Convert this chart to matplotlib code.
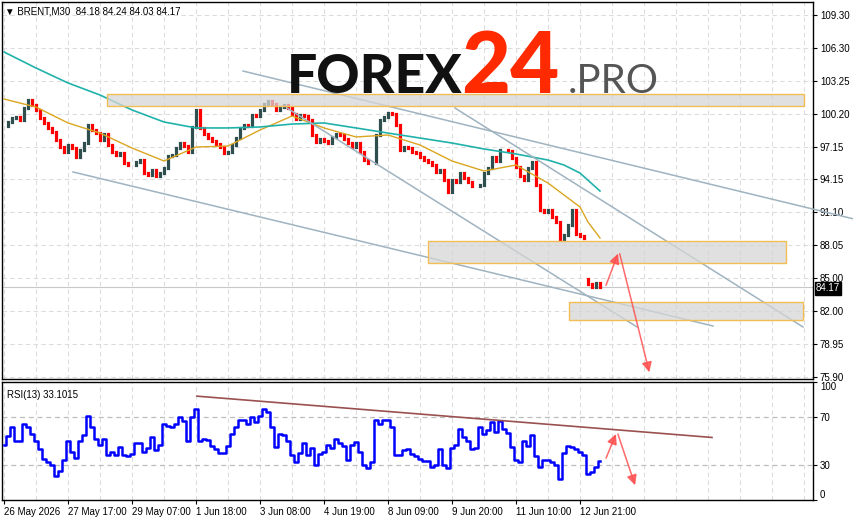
import numpy as np
import matplotlib
matplotlib.use('Agg')
import matplotlib.pyplot as plt
from matplotlib.patches import Rectangle

plt.rcParams['font.family'] = ['Liberation Sans', 'DejaVu Sans']

# BRENT M30 closes, one value per bar
closes = [99.06, 99.43, 99.80, 99.89, 99.61, 100.72, 101.46, 101.00, 100.54, 99.80,
          99.34, 98.88, 98.51, 97.77, 97.12, 96.66, 97.31, 97.03, 96.20, 96.85,
          97.49, 99.15, 98.69, 98.41, 97.77, 98.32, 97.31, 96.66, 96.38, 96.57,
          95.65, 95.46, 95.46, 95.74, 95.92, 94.72, 94.54, 95.00, 94.45, 94.72,
          95.19, 96.29, 96.38, 97.03, 97.49, 97.21, 96.66, 98.97, 100.54, 98.88,
          98.32, 97.95, 97.68, 97.40, 97.12, 96.57, 96.66, 97.31, 97.95, 98.88,
          99.15, 99.06, 100.08, 99.98, 100.54, 101.09, 101.37, 101.09, 100.54, 100.81,
          101.00, 100.72, 100.17, 99.71, 100.08, 99.98, 99.61, 98.23, 97.58, 97.86,
          97.68, 97.49, 98.05, 98.32, 98.23, 97.86, 97.49, 97.12, 97.49, 96.66,
          95.92, 95.65, 95.65, 98.23, 99.61, 99.89, 100.26, 100.17, 99.15, 96.85,
          97.12, 97.03, 96.66, 96.57, 96.20, 95.92, 95.74, 95.46, 94.82, 95.00,
          94.08, 92.97, 94.08, 93.89, 94.72, 94.26, 93.89, 93.53, 93.53, 93.62,
          94.72, 95.19, 96.20, 95.83, 96.85, 96.85, 96.75, 96.11, 95.28, 94.45,
          94.08, 95.19, 95.74, 93.62, 91.31, 91.13, 91.31, 90.67, 90.20, 88.54,
          89.00, 89.93, 91.31, 89.10, 88.91, 88.73, 84.49, 84.21, 84.58, 84.17]
gap_bar = 146
gap_open = 84.95

rsi = [47, 54, 62, 50, 50, 64, 62, 56, 50, 43,
       35, 32, 30, 20, 25, 34, 50, 41, 36, 50,
       55, 71, 62, 52, 47, 52, 38, 41, 38, 45,
       38, 37, 39, 48, 48, 41, 44, 53, 42, 47,
       64, 63, 62, 64, 70, 67, 50, 70, 77, 50,
       52, 51, 46, 43, 40, 40, 46, 56, 62, 68,
       68, 64, 70, 66, 71, 77, 75, 62, 45, 56,
       55, 50, 38, 32, 40, 48, 38, 44, 30, 39,
       41, 47, 44, 52, 48, 46, 34, 47, 49, 41,
       30, 27, 32, 68, 64, 68, 68, 62, 38, 38,
       42, 43, 39, 37, 35, 33, 33, 28, 30, 43,
       30, 27, 44, 47, 60, 53, 50, 43, 44, 62,
       56, 59, 66, 58, 67, 60, 57, 45, 34, 32,
       50, 46, 55, 37, 28, 34, 34, 32, 30, 18,
       40, 46, 45, 43, 41, 38, 22, 24, 28, 33]

# moving averages (bar index, price)
ma_fast_bar = [0, 8, 16, 24, 32, 40, 48, 56, 64, 72, 80, 88, 96, 104, 112, 120, 128, 136, 144, 146, 149]
ma_fast = [101.55, 100.81, 99.34, 98.41, 97.03, 95.83, 97.12, 97.21, 98.69, 99.98, 98.88,
           98.05, 98.23, 97.31, 95.83, 94.91, 95.46, 93.80, 91.59, 90.20, 88.73]
ma_slow_bar = [0, 8, 16, 24, 32, 40, 48, 56, 64, 72, 80, 88, 96, 104, 112, 120, 128, 136, 140, 144, 149]
ma_slow = [105.89, 104.41, 103.03, 101.92, 100.54, 99.43, 98.88, 98.88, 98.97, 99.24, 99.34,
           98.88, 98.41, 97.95, 97.49, 96.94, 96.48, 95.92, 95.46, 94.72, 93.06]

# zones (bar from, bar to, price low, price high)
zones = [(25.75, 200.0, 100.93, 101.98),
         (106.0, 195.5, 86.42, 88.45),
         (141.25, 199.75, 81.16, 82.82)]
# trend lines ((bar, price), (bar, price))
trend_lines = [((59.75, 104.13), (212.5, 90.48)),
               ((112.75, 100.72), (199.75, 80.52)),
               ((70.75, 100.72), (158.25, 80.52)),
               ((17.25, 94.82), (177.25, 80.61))]
forecast_bar = [150.25, 153.75, 161.5]
forecast_price = [84.12, 87.53, 76.09]
rsi_line = ((48.25, 88.0), (177.0, 53.0))
rsi_fc_bar = [150.25, 153.25, 158.0]
rsi_fc = [33.3, 58.1, 10.3]

price_ticks = [109.30, 106.30, 103.25, 100.20, 97.15, 94.15, 91.10, 88.05, 85.00, 82.00, 78.95, 75.90]
date_bars = [0, 16, 32, 48, 64, 80, 96, 112, 128, 144]
date_labels = ['26 May 2026', '27 May 17:00', '29 May 07:00', '1 Jun 18:00', '3 Jun 08:00',
               '4 Jun 19:00', '8 Jun 09:00', '9 Jun 20:00', '11 Jun 10:00', '12 Jun 21:00']
header = ['84.18', '84.24', '84.03', '84.17']
last_price = 84.17

W, H = 854, 521
fig = plt.figure(figsize=(W / 100, H / 100), dpi=100)


def px_rect(l, t, r, b):
    return [l / W, 1 - b / H, (r - l) / W, (b - t) / H]


ax = fig.add_axes(px_rect(2, 2, 813, 379))
axr = fig.add_axes(px_rect(2, 382, 813, 500))

x = np.arange(len(closes))
closes = np.array(closes)
opens = np.r_[closes[0], closes[:-1]]
opens[gap_bar] = gap_open
up = closes >= opens

grid_kw = dict(color='#dcdcdc', lw=0.8, ls=(0, (4, 3)), zorder=0)
for a in (ax, axr):
    for g in range(0, 201, 8):
        a.axvline(g, **grid_kw)
    a.set_xlim(-0.5, 202.25)
    for s in a.spines.values():
        s.set_linewidth(1.0)
        s.set_color('black')

for t in price_ticks:
    ax.axhline(t, **grid_kw)

# candles
ax.vlines(x[up], opens[up], closes[up], color='#2f4f4f', lw=2.3, capstyle='projecting', zorder=3)
ax.vlines(x[~up], opens[~up], closes[~up], color='#ff0000', lw=2.3, capstyle='projecting', zorder=3)

ax.plot(ma_fast_bar, ma_fast, color='#daa520', lw=1.0, zorder=4)
ax.plot(ma_slow_bar, ma_slow, color='#20b2aa', lw=1.2, zorder=4)

ax.axhline(last_price, color='#c8c8c8', lw=0.8, zorder=1)

for (b0, b1, p0, p1) in zones:
    ax.add_patch(Rectangle((b0, p0), b1 - b0, p1 - p0, facecolor='#d6d6d6', alpha=0.75,
                           edgecolor='none', zorder=5))
    ax.add_patch(Rectangle((b0, p0), b1 - b0, p1 - p0, facecolor='none',
                           edgecolor='#f2bd55', lw=1.0, zorder=5))

for (p, q) in trend_lines:
    ax.plot([p[0], q[0]], [p[1], q[1]], color='#9fb3c0', lw=1.1, zorder=4, clip_on=False)

arrow_kw = dict(arrowstyle='-|>', color='#ff5050', lw=1.1, mutation_scale=15, alpha=0.85)
for i in range(2):
    ax.annotate('', xy=(forecast_bar[i + 1], forecast_price[i + 1]),
                xytext=(forecast_bar[i], forecast_price[i]), arrowprops=arrow_kw,
                annotation_clip=False, zorder=6)
    axr.annotate('', xy=(rsi_fc_bar[i + 1], rsi_fc[i + 1]),
                 xytext=(rsi_fc_bar[i], rsi_fc[i]), arrowprops=arrow_kw,
                 annotation_clip=False, zorder=6)

ax.set_ylim(75.72, 110.50)
ax.yaxis.tick_right()
ax.set_yticks(price_ticks)
ax.set_yticklabels([f'{t:.2f}' for t in price_ticks])
ax.tick_params(axis='y', length=3, width=0.8, pad=2, labelsize=7)
ax.tick_params(axis='x', length=0, labelbottom=False)

ax.text(1.0035, last_price - 0.1, f'{last_price:.2f}', transform=ax.get_yaxis_transform(),
        fontsize=7, color='white', va='center', ha='left', zorder=10,
        bbox=dict(boxstyle='square,pad=0.12', fc='black', ec='black'), clip_on=False)

ax.text(0.004, 0.988, '\u25bc BRENT,M30  ' + ' '.join(header), transform=ax.transAxes,
        fontsize=7, va='top', ha='left')

# RSI panel
axr.plot(x, rsi, color='#0000ff', lw=1.8, drawstyle='steps-mid', zorder=3)
axr.axhline(70, color='#bdbdbd', lw=0.9, ls=(0, (4, 3)), zorder=0)
axr.axhline(30, color='#bdbdbd', lw=0.9, ls=(0, (4, 3)), zorder=0)
axr.plot([rsi_line[0][0], rsi_line[1][0]], [rsi_line[0][1], rsi_line[1][1]],
         color='#9b5050', lw=1.2, zorder=4)
axr.set_ylim(0, 100)
axr.yaxis.tick_right()
axr.set_yticks([100, 70, 30, 0])
axr.tick_params(axis='y', length=3, width=0.8, pad=2, labelsize=7)
for lab, v in zip(axr.get_yticklabels(), [100, 70, 30, 0]):
    if v == 100:
        lab.set_va('top')
    elif v == 0:
        lab.set_va('bottom')
axr.set_xticks(date_bars)
axr.set_xticklabels(date_labels)
axr.tick_params(axis='x', length=3, width=0.8, pad=2, labelsize=7)
for lab in axr.get_xticklabels():
    lab.set_ha('left')
axr.text(0.006, 0.93, 'RSI(13) 33.1015', transform=axr.transAxes, fontsize=7, va='top', ha='left')

# watermark
fig.text(287 / W, 1 - 93 / H, 'FOREX', fontsize=38.5, fontweight='black', color='#111111',
         family=['Lato', 'Liberation Sans', 'DejaVu Sans'], va='baseline', zorder=20)
fig.text(461 / W, 1 - 93 / H, '24', fontsize=61, fontweight='black', color='#ff2a00',
         family=['Lato', 'Liberation Sans', 'DejaVu Sans'], va='baseline', zorder=20)
fig.text(568 / W, 1 - 93 / H, '.PRO', fontsize=29, color='#555555',
         family=['Lato', 'Liberation Sans', 'DejaVu Sans'], va='baseline', zorder=20)

fig.savefig('out.png', dpi=100)
